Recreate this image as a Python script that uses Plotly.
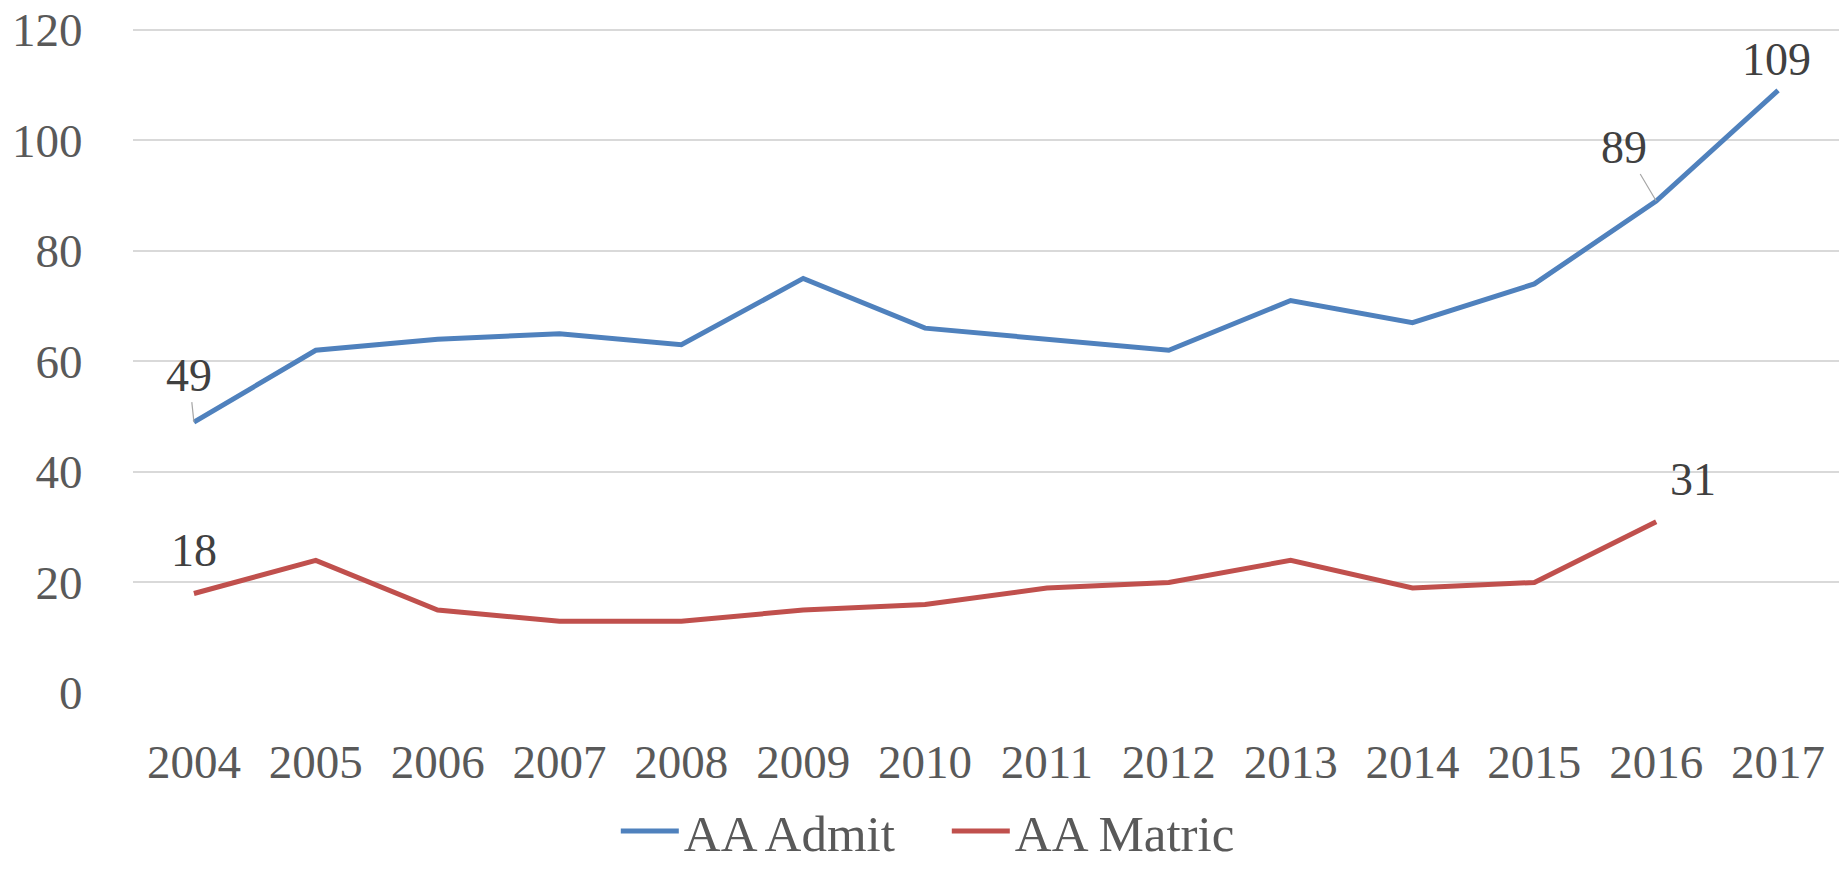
import plotly.graph_objects as go

years = ["2004", "2005", "2006", "2007", "2008", "2009", "2010",
         "2011", "2012", "2013", "2014", "2015", "2016", "2017"]
aa_admit = [49, 62, 64, 65, 63, 75, 66, 64, 62, 71, 67, 74, 89, 109]
aa_matric = [18, 24, 15, 13, 13, 15, 16, 19, 20, 24, 19, 20, 31, None]
y_ticks = [0, 20, 40, 60, 80, 100, 120]

FONT = "Palatino Linotype, Book Antiqua, Palatino, Liberation Serif, serif"
BLUE = "#4F81BD"
RED = "#C0504D"

fig = go.Figure()
fig.add_trace(go.Scatter(x=years, y=aa_admit, mode="lines", name="AA Admit",
                         line=dict(color=BLUE, width=5)))
fig.add_trace(go.Scatter(x=years, y=aa_matric, mode="lines", name="AA Matric",
                         line=dict(color=RED, width=5)))

# data labels (index, series, offset x, offset y, leader line)
labels = [
    (0, aa_admit, -5, -47, True),
    (12, aa_admit, -32, -54, True),
    (13, aa_admit, -2, -31, False),
    (0, aa_matric, 0, -43, False),
    (12, aa_matric, 37, -42, False),
]
for i, series, ax, ay, leader in labels:
    fig.add_annotation(
        x=i, y=series[i], xref="x", yref="y", text=str(series[i]),
        showarrow=True, ax=ax, ay=ay, arrowhead=0,
        arrowwidth=1.2,
        arrowcolor="#A6A6A6" if leader else "rgba(0,0,0,0)",
        font=dict(family=FONT, size=46, color="#404040"),
    )

fig.update_layout(
    width=1846, height=869,
    margin=dict(l=133, r=7, t=28, b=176, autoexpand=False),
    plot_bgcolor="white", paper_bgcolor="white",
    font=dict(family=FONT, size=47, color="#595959"),
    showlegend=True,
    legend=dict(orientation="h", x=0.283, xanchor="left", y=-0.208,
                yanchor="middle", entrywidth=258, itemwidth=58,
                font=dict(family=FONT, size=51, color="#595959")),
    xaxis=dict(type="category", range=[-0.5, 13.5], showgrid=False,
               showline=False, zeroline=False, ticks="outside", ticklen=28,
               tickcolor="rgba(0,0,0,0)",
               tickfont=dict(family=FONT, size=47, color="#595959")),
    yaxis=dict(range=[0, 120.3], tickvals=y_ticks, showgrid=True,
               gridcolor="#D9D9D9", gridwidth=1.5, zeroline=False,
               showline=False, ticks="outside", ticklen=40,
               tickcolor="rgba(0,0,0,0)", ticklabeloverflow="allow",
               tickfont=dict(family=FONT, size=47, color="#595959")),
)

fig.write_html("out.html", config={"displayModeBar": False},
               post_script="document.body.style.margin='0';")
